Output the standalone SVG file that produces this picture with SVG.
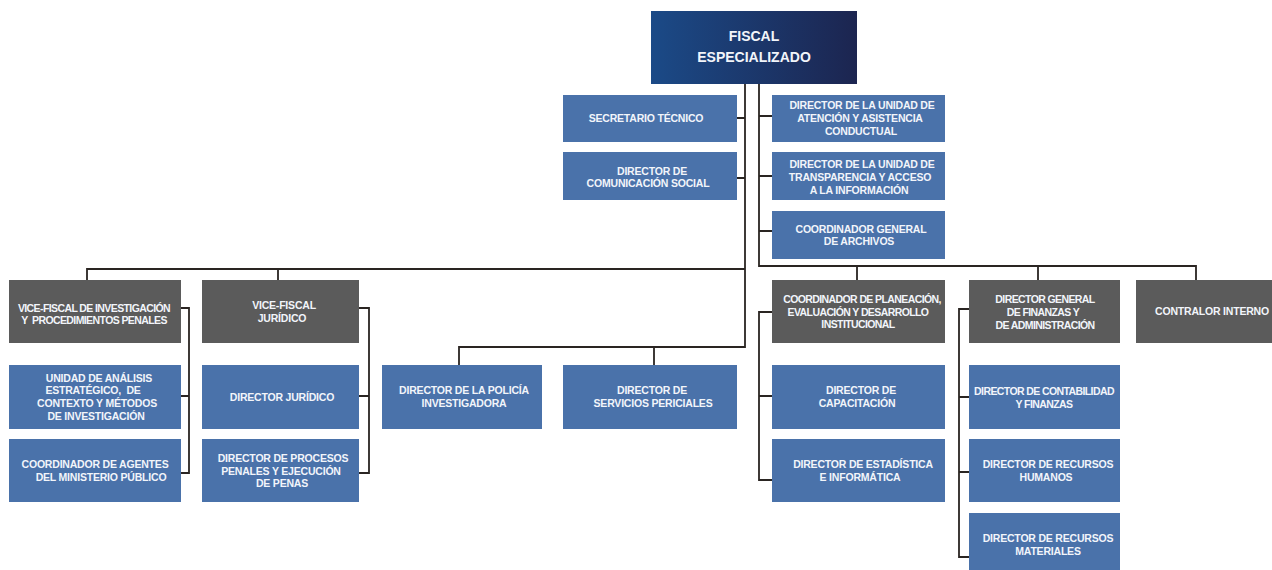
<svg xmlns="http://www.w3.org/2000/svg" width="1272" height="570" viewBox="0 0 1272 570">
<defs>
<linearGradient id="gTop" x1="0" y1="0" x2="1" y2="0">
<stop offset="0" stop-color="#1b4a87"/>
<stop offset="1" stop-color="#1c2550"/>
</linearGradient>
<style>
.b{fill:#4a72aa}
.g{fill:#5b5b5b}
.t{fill:#f2f5fa;font-family:"Liberation Sans",Arial,sans-serif;font-weight:bold;font-size:10.5px;letter-spacing:-0.2px;text-anchor:middle;white-space:pre}
.tt{letter-spacing:-0.6px}
.big{font-size:14px;letter-spacing:0}
.c{fill:none;stroke:#2a2522;stroke-width:1.8}
</style>
</defs>
<rect width="1272" height="570" fill="#ffffff"/>
<g id="connectors">
<path class="c" d="M745,84 V347 H459 V365 M654,347 V365"/>
<path class="c" d="M87,280 V269 H745 M278,269 V280"/>
<path class="c" d="M737,118 H745 M737,178 H745"/>
<path class="c" d="M759,84 V266 H1196 V280 M857,266 V280 M1038,266 V280"/>
<path class="c" d="M759,116 H772 M759,176 H772 M759,231 H772"/>
<path class="c" d="M181,308 H189 V473 H181 M181,396 H189"/>
<path class="c" d="M359,308 H369 V473 H359 M359,396 H369"/>
<path class="c" d="M772,312 H759 V480 H772 M759,396 H772"/>
<path class="c" d="M969,309 H959 V557 H969 M959,397 H969 M959,472 H969"/>
</g>
<g id="fiscal">
<rect x="651" y="11" width="206" height="73" fill="url(#gTop)"/>
<text class="t big" x="754" y="41">FISCAL</text>
<text class="t big" x="754" y="62">ESPECIALIZADO</text>
</g>
<g id="secretario">
<rect class="b" x="563" y="95" width="174" height="47"/>
<text class="t" x="646" y="122">SECRETARIO TÉCNICO</text>
</g>
<g id="comunicacion">
<rect class="b" x="563" y="152" width="174" height="48"/>
<text class="t" x="652" y="175">DIRECTOR DE</text>
<text class="t" x="648" y="187">COMUNICACIÓN SOCIAL</text>
</g>
<g id="atencion">
<rect class="b" x="772" y="95" width="173" height="47"/>
<text class="t" x="862" y="109">DIRECTOR DE LA UNIDAD DE</text>
<text class="t" x="860" y="122">ATENCIÓN Y ASISTENCIA</text>
<text class="t" x="861" y="135">CONDUCTUAL</text>
</g>
<g id="transparencia">
<rect class="b" x="772" y="152" width="173" height="48"/>
<text class="t" x="862" y="168">DIRECTOR DE LA UNIDAD DE</text>
<text class="t" x="860" y="181">TRANSPARENCIA Y ACCESO</text>
<text class="t" x="859" y="194">A LA INFORMACIÓN</text>
</g>
<g id="archivos">
<rect class="b" x="772" y="211" width="173" height="48"/>
<text class="t" x="861" y="233">COORDINADOR GENERAL</text>
<text class="t" x="859" y="245">DE ARCHIVOS</text>
</g>
<g id="vicefiscal-inv">
<rect class="g" x="9" y="280" width="172" height="63"/>
<text class="t tt" x="94" y="312">VICE-FISCAL DE INVESTIGACIÓN</text>
<text class="t tt" x="94" y="324">Y  PROCEDIMIENTOS PENALES</text>
</g>
<g id="unidad-analisis">
<rect class="b" x="9" y="365" width="172" height="64"/>
<text class="t" x="99" y="382">UNIDAD DE ANÁLISIS</text>
<text class="t" x="93" y="394">ESTRATÉGICO,  DE</text>
<text class="t" x="97" y="407">CONTEXTO Y MÉTODOS</text>
<text class="t" x="96" y="420">DE INVESTIGACIÓN</text>
</g>
<g id="coord-agentes">
<rect class="b" x="9" y="439" width="172" height="63"/>
<text class="t" x="95" y="468">COORDINADOR DE AGENTES</text>
<text class="t" x="101" y="481">DEL MINISTERIO PÚBLICO</text>
</g>
<g id="vicefiscal-jur">
<rect class="g" x="202" y="280" width="157" height="63"/>
<text class="t" x="284" y="309">VICE-FISCAL</text>
<text class="t" x="282" y="322">JURÍDICO</text>
</g>
<g id="dir-juridico">
<rect class="b" x="202" y="365" width="157" height="64"/>
<text class="t" x="282" y="401">DIRECTOR JURÍDICO</text>
</g>
<g id="dir-procesos">
<rect class="b" x="202" y="439" width="157" height="63"/>
<text class="t" x="283" y="462">DIRECTOR DE PROCESOS</text>
<text class="t" x="281" y="475">PENALES Y EJECUCIÓN</text>
<text class="t" x="282" y="487">DE PENAS</text>
</g>
<g id="policia">
<rect class="b" x="382" y="365" width="160" height="64"/>
<text class="t" x="464" y="394">DIRECTOR DE LA POLICÍA</text>
<text class="t" x="464" y="407">INVESTIGADORA</text>
</g>
<g id="periciales">
<rect class="b" x="563" y="365" width="174" height="64"/>
<text class="t" x="652" y="394">DIRECTOR DE</text>
<text class="t" x="653" y="407">SERVICIOS PERICIALES</text>
</g>
<g id="planeacion">
<rect class="g" x="772" y="280" width="173" height="63"/>
<text class="t tt" x="862" y="303">COORDINADOR DE PLANEACIÓN,</text>
<text class="t tt" x="858" y="316">EVALUACIÓN Y DESARROLLO</text>
<text class="t tt" x="858" y="328">INSTITUCIONAL</text>
</g>
<g id="capacitacion">
<rect class="b" x="772" y="365" width="173" height="64"/>
<text class="t" x="861" y="394">DIRECTOR DE</text>
<text class="t" x="857" y="407">CAPACITACIÓN</text>
</g>
<g id="estadistica">
<rect class="b" x="772" y="439" width="173" height="63"/>
<text class="t" x="863" y="468">DIRECTOR DE ESTADÍSTICA</text>
<text class="t" x="860" y="481">E INFORMÁTICA</text>
</g>
<g id="finanzas-general">
<rect class="g" x="969" y="280" width="151" height="63"/>
<text class="t tt" x="1045" y="303">DIRECTOR GENERAL</text>
<text class="t tt" x="1043" y="316">DE FINANZAS Y</text>
<text class="t tt" x="1045" y="329">DE ADMINISTRACIÓN</text>
</g>
<g id="contabilidad">
<rect class="b" x="969" y="365" width="151" height="64"/>
<text class="t tt" x="1044" y="395">DIRECTOR DE CONTABILIDAD</text>
<text class="t tt" x="1044" y="408">Y FINANZAS</text>
</g>
<g id="rh">
<rect class="b" x="969" y="439" width="151" height="63"/>
<text class="t" x="1048" y="468">DIRECTOR DE RECURSOS</text>
<text class="t" x="1046" y="481">HUMANOS</text>
</g>
<g id="materiales">
<rect class="b" x="969" y="513" width="151" height="57"/>
<text class="t" x="1048" y="542">DIRECTOR DE RECURSOS</text>
<text class="t" x="1048" y="555">MATERIALES</text>
</g>
<g id="contralor">
<rect class="g" x="1136" y="280" width="136" height="63"/>
<text class="t" x="1212" y="315">CONTRALOR INTERNO</text>
</g>
</svg>
